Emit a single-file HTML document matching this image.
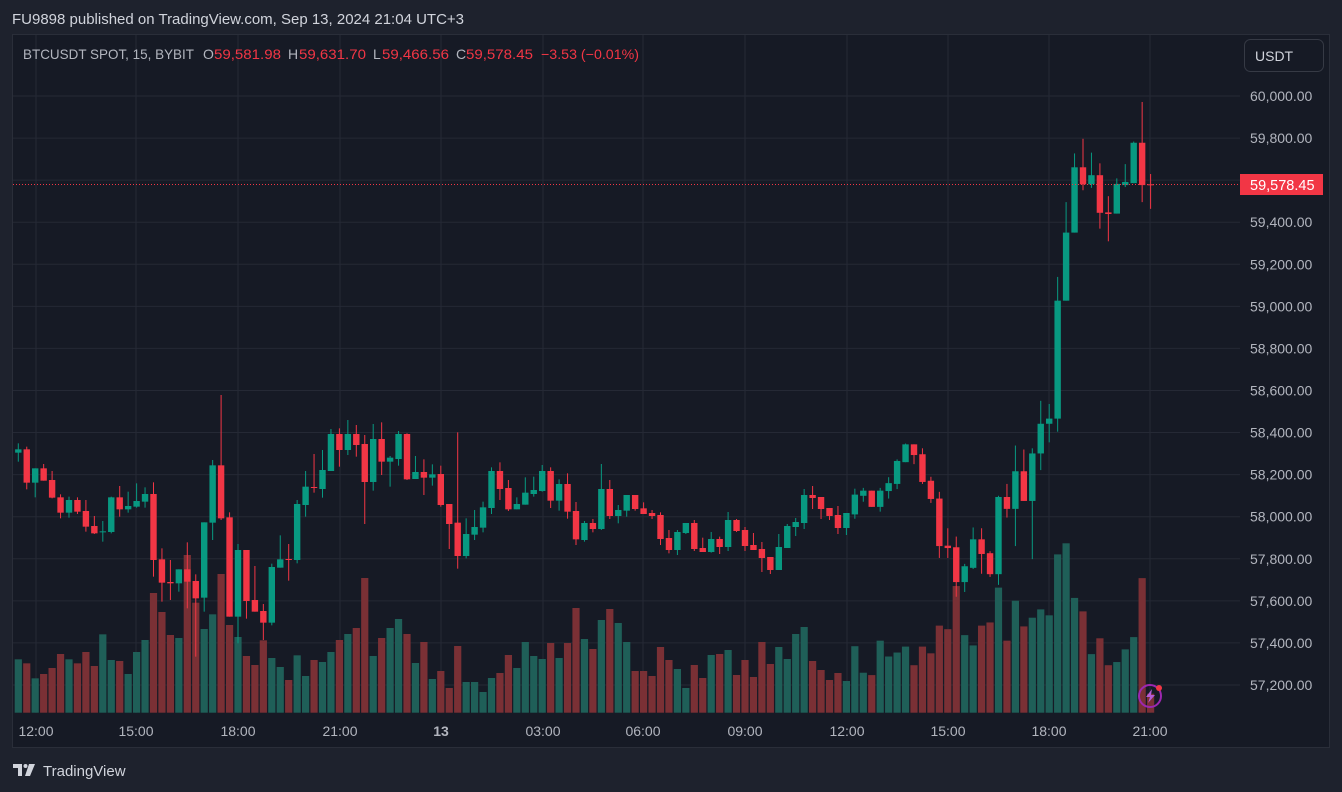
<!DOCTYPE html>
<html><head><meta charset="utf-8"><style>
html,body{margin:0;padding:0;background:#1e222d;width:1342px;height:792px;overflow:hidden;font-family:"Liberation Sans",sans-serif}
svg{position:absolute;left:0;top:0}
</style></head><body>
<svg id="s" width="1342" height="792" xmlns="http://www.w3.org/2000/svg">
<rect x="0" y="0" width="1342" height="792" fill="#1e222d"/>
<rect x="12.5" y="34.5" width="1317" height="713" fill="#161a25" stroke="#2a2e39"/>
<g id="grid" stroke="#252935" stroke-width="1"></g>
<g id="vol"></g>
<g id="cdl"></g>
<line x1="13" y1="184.5" x2="1240" y2="184.5" stroke="#f23645" stroke-dasharray="1,2" stroke-width="1"/>
<g id="axis" font-size="14" fill="#b2b5be"></g>
<text x="12" y="24" font-size="15" fill="#d1d4dc" textLength="452" lengthAdjust="spacingAndGlyphs">FU9898 published on TradingView.com, Sep 13, 2024 21:04 UTC+3</text>
<g font-size="14" fill="#b2b5be">
<text x="23" y="59" textLength="171" lengthAdjust="spacingAndGlyphs">BTCUSDT SPOT, 15, BYBIT</text>
<text x="203" y="59">O</text><text x="214" y="59" fill="#f23645" textLength="67" lengthAdjust="spacingAndGlyphs">59,581.98</text>
<text x="288" y="59">H</text><text x="299" y="59" fill="#f23645" textLength="67" lengthAdjust="spacingAndGlyphs">59,631.70</text>
<text x="373" y="59">L</text><text x="382" y="59" fill="#f23645" textLength="67" lengthAdjust="spacingAndGlyphs">59,466.56</text>
<text x="456" y="59">C</text><text x="466" y="59" fill="#f23645" textLength="67" lengthAdjust="spacingAndGlyphs">59,578.45</text>
<text x="541" y="59" fill="#f23645" textLength="98" lengthAdjust="spacingAndGlyphs">−3.53 (−0.01%)</text>
</g>
<rect x="1244.5" y="39.5" width="79" height="32" rx="6" fill="#161a25" stroke="#363a45"/>
<text x="1255" y="61" font-size="14" fill="#d1d4dc">USDT</text>
<rect x="1240" y="174" width="83" height="21" fill="#f23645"/>
<text x="1250" y="190" font-size="14.5" fill="#ffffff">59,578.45</text>
<circle cx="1150" cy="696" r="11" fill="none" stroke="#9c27b0" stroke-width="2"/>
<path d="M1152 689 L1146 697 L1150 697 L1148 703 L1155 695 L1151 695 Z" fill="#b45cd6"/>
<circle cx="1159" cy="688" r="3" fill="#f23645"/>
<g fill="#d1d4dc"><path d="M13 764 h9 v12 h-4 v-8 h-5 z"/><circle cx="25.5" cy="766" r="2"/><path d="M29 764 h6 l-5 12 h-5 z"/></g>
<text x="43" y="776" font-size="15" fill="#d1d4dc">TradingView</text>
</svg>
<script>
var NS="http://www.w3.org/2000/svg";
function el(p,t,a){var e=document.createElementNS(NS,t);for(var k in a)e.setAttribute(k,a[k]);p.appendChild(e);return e;}
var grid=document.getElementById('grid'),axis=document.getElementById('axis');
function py(p){return 96+(60000-p)/200*42.07;}
for(var p=57200;p<=60000;p+=200){var y=py(p);el(grid,'line',{x1:13,x2:1240,y1:y,y2:y});
 var t=el(axis,'text',{x:1250,y:y+5});t.textContent=(p/1000|0)+','+String(p%1000).padStart(3,'0')+'.00';}
var tl=[['12:00',36],['15:00',136],['18:00',238],['21:00',340],['13',441],['03:00',543],['06:00',643],['09:00',745],['12:00',847],['15:00',948],['18:00',1049],['21:00',1150]];
tl.forEach(function(a){el(grid,'line',{x1:a[1],x2:a[1],y1:35,y2:713});var t=el(axis,'text',{x:a[1],y:736,'text-anchor':'middle'});t.textContent=a[0];if(a[0]=='13')t.setAttribute('font-weight','bold');});
var z1=[['g',178,188,160,215,808],['r',178,278,170,298,820],['g',235,278,235,322,865],['r',235,272,222,272,852],['r',270,323,243,325,834],['r',322,368,313,385,792],['g',330,368,320,383,808],['r',330,365,322,372,820],['r',363,410,330,425,786],['r',408,430,378,432,828],['g',424,426,393,455,733],['g',322,426,320,430,810],['r',322,358,288,380,813],['g',348,358,305,368,852],['g',333,350,280,353,786],['g',312,335,292,353,750],['r',312,510,277,560,609],['r',508,578,475,635,666],['r',576,580,510,630,735],['g',538,580,538,605,744],['r',538,575,457,655,495],['r',573,625,553,800,638],['g',397,623,397,665,717],['g',226,398,210,450,673],['r',226,385,15,390,552],['r',382,680,367,680,705],['g',480,680,462,760,741],['r',480,633,480,686,798],['r',630,665,528,665,825],['r',663,698,642,750,751],['g',531,698,521,706,804],['g',508,533,436,533,831],['r',507,510,462,572,870]];
var z2=[['g',252,420,240,430,706],['g',200,255,153,290,768],['r',201,203,102,218,720],['g',150,207,90,233,726],['g',42,153,27,153,696],['r',42,90,25,140,660],['g',42,90,0,105,642],['r',42,75,15,110,624],['r',72,186,45,312,474],['g',57,186,12,212,708],['r',57,125,7,165,654],['g',113,125,108,200,624],['g',42,117,33,137,597],['r',42,178,40,180,642],['g',156,177,108,177,729],['r',156,173,118,225,666],['g',163,173,133,197,777],['r',162,255,137,260,753],['r',252,312,252,387,804],['r',308,408,37,446,678],['g',342,408,295,415,786],['g',321,344,270,360,786],['g',262,323,245,337,816],['g',153,264,142,282,774],['r',153,207,127,240,759],['r',204,268,180,273,705],['g',252,268,232,268,744],['g',218,254,172,254,666],['g',210,222,170,230,708],['g',153,213,135,215,717],['r',153,242,142,264,669],['g',192,242,178,272,714],['r',192,275,160,296,669],['r',273,358,246,375,564]];
var z3=[['g',309,360,303,365,657],['r',309,327,297,337,687],['g',207,327,132,330,600],['r',207,288,180,297,567],['g',270,288,255,310,609],['g',225,272,225,290,666],['r',225,267,225,272,753],['r',265,282,247,282,753],['r',279,288,270,297,768],['r',285,357,277,375,681],['r',354,390,330,400,720],['g',336,390,330,405,747],['g',309,339,309,342,804],['r',309,387,300,393,735],['r',384,396,353,396,774],['g',357,396,336,398,705],['r',357,381,350,402,702],['g',300,381,276,393,690],['r',300,333,297,336,765],['r',330,378,321,393,720],['r',375,390,339,390,771],['r',387,414,366,456,666],['r',411,450,411,462,732],['g',381,450,342,450,681],['g',318,384,312,384,717],['g',306,321,294,348,642],['g',225,309,207,327,621],['r',225,234,198,267,723],['r',231,267,231,297,750],['r',264,288,264,300,780],['r',285,324,258,342,759],['g',279,324,279,345,783]];
var z4=[['g',997,1047,982,1058,1380],['g',987,1000,980,1015,1447],['r',987,1028,987,1028,1453],['g',987,1028,980,1040,1366],['g',968,988,953,1007,1406],['g',912,970,908,983,1396],['g',870,915,868,915,1381],['r',870,897,870,920,1428],['r',895,965,880,970,1381],['r',962,1008,952,1018,1398],['r',1007,1127,990,1157,1328],['r',1126,1132,1082,1157,1337],['r',1130,1218,1103,1255,1228],['g',1178,1218,1172,1243,1352],['g',1110,1182,1080,1185,1378],['r',1110,1147,1082,1197,1328],['r',1145,1198,1140,1205,1320],['g',1003,1198,1000,1225,1232],['r',1003,1033,970,1055,1366],['g',938,1033,873,1127,1265],['r',938,1013,883,1013,1330],['g',893,1013,880,1160,1308],['g',818,893,760,935,1287],['g',805,818,768,865,1302],['g',507,805,447,838,1148],['g',335,507,258,507,1120],['g',170,335,135,335,1258],['r',170,213,98,228,1292],['g',190,213,133,222,1400],['r',190,285,160,325,1360],['r',284,288,243,357,1428],['g',212,287,198,287,1420],['g',207,215,162,220,1388],['g',108,210,105,210,1357],['r',108,215,5,258,1208],['r',213,215,187,275,1500]];
var D=[];
function add(a,f){a.forEach(function(d){D.push([d[0],f(d[1]),f(d[2]),f(d[3]),f(d[4]),f(d[5])]);});}
add(z1,function(z){return 390+z/3;});add(z2,function(z){return 420+z/3;});add(z3,function(z){return 420+z/3;});add(z4,function(z){return 100+z*0.3958;});
var V=document.getElementById('vol'),C=document.getElementById('cdl');
D.forEach(function(d,i){var x=18.3+8.45*i;var g=d[0]=='g';var col=g?'#089981':'#f23645';
 el(V,'rect',{x:x-3.6,y:d[5],width:7.2,height:Math.max(0,712.7-d[5]),fill:g?'#1f5f58':'#7a3035'});
 el(C,'rect',{x:x-0.5,y:d[3],width:1,height:d[4]-d[3],fill:col});
 el(C,'rect',{x:x-3.2,y:d[1],width:6.4,height:Math.max(1,d[2]-d[1]),fill:col});});
</script>
</body></html>
